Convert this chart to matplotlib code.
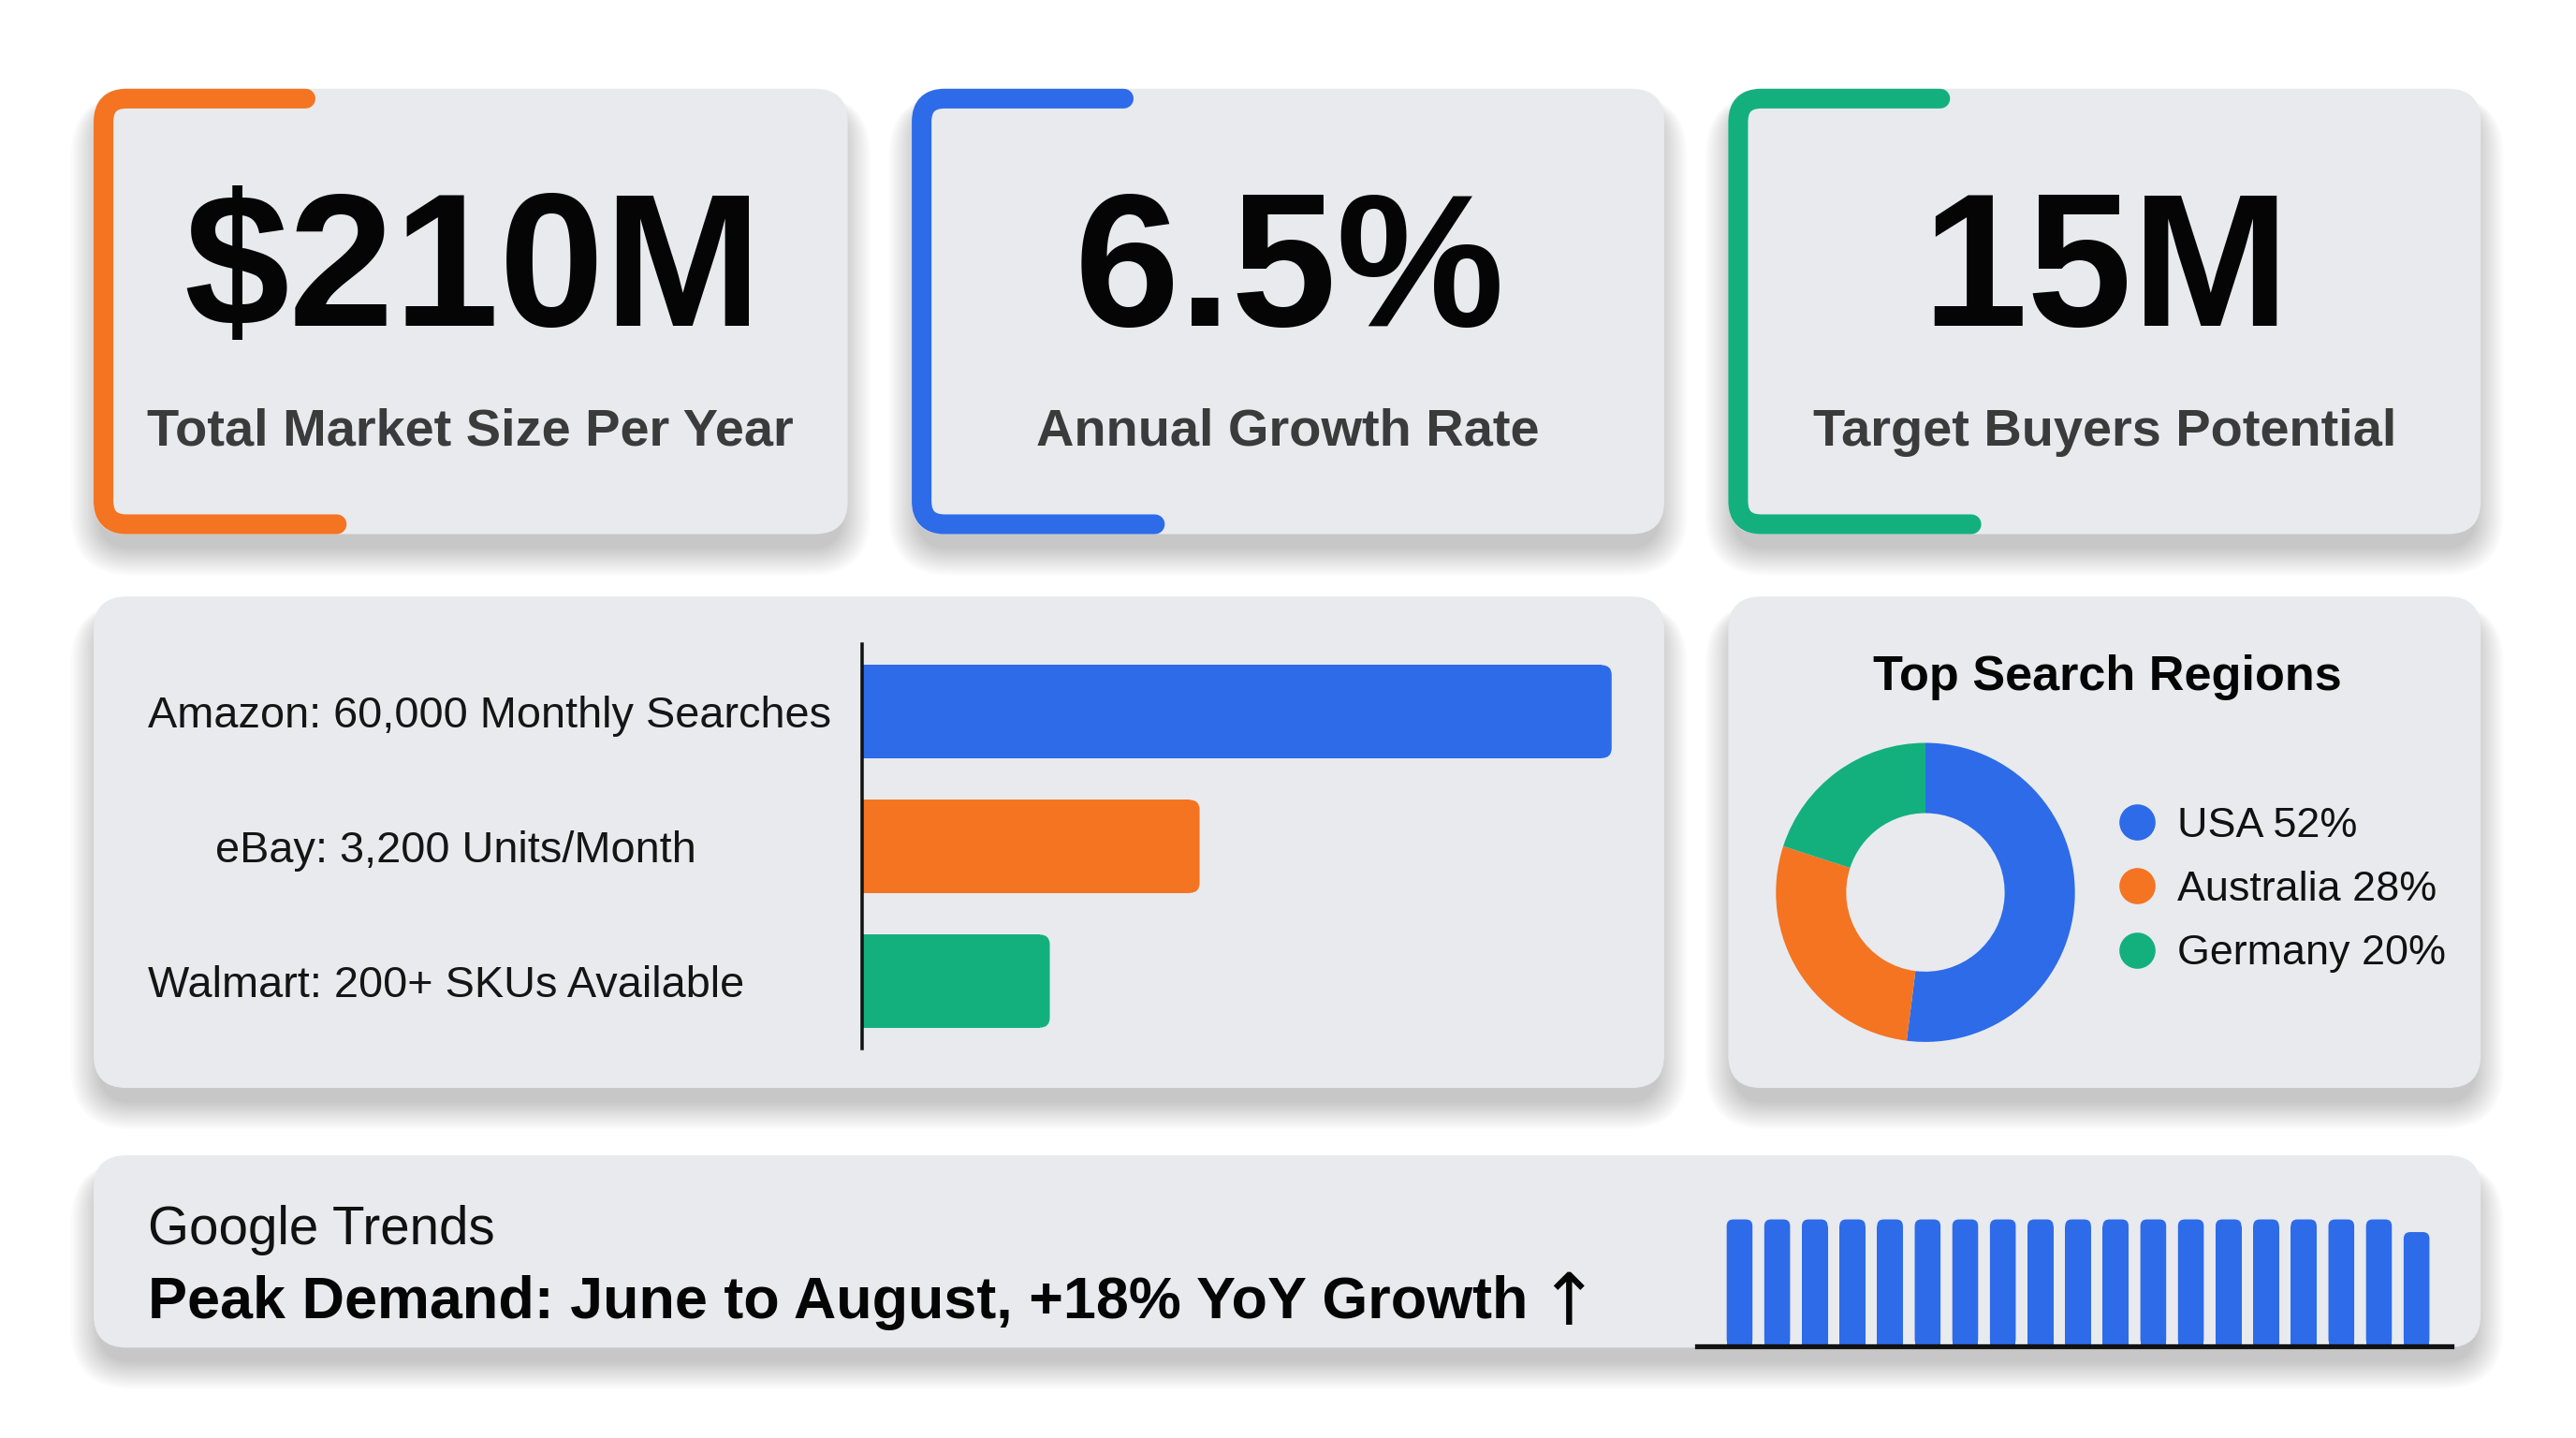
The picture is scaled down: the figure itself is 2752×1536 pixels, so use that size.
import matplotlib
matplotlib.use("Agg")
import matplotlib.pyplot as plt
from matplotlib.patches import FancyBboxPatch, PathPatch
from matplotlib.path import Path
from matplotlib.transforms import blended_transform_factory

plt.rcParams['font.family'] = ['Liberation Sans', 'DejaVu Sans']

##### Data #####
kpi_values = ["$210M", "6.5%", "15M"]
kpi_labels = ["Total Market Size Per Year", "Annual Growth Rate", "Target Buyers Potential"]

platform_labels = ["Amazon: 60,000 Monthly Searches", "eBay: 3,200 Units/Month", "Walmart: 200+ SKUs Available"]
platform_bars = [100, 45, 25]

region_names = ["USA", "Australia", "Germany"]
region_share = [52, 28, 20]

trend_title = "Google Trends"
trend_text = "Peak Demand: June to August, +18% YoY Growth"
trend_arrow = "\u2191"
trend_values = [100, 100, 100, 100, 100, 100, 100, 100, 100, 100,
                100, 100, 100, 100, 100, 100, 100, 100, 90]

##### Style #####
BLUE = "#2d6be9"
ORANGE = "#f47421"
GREEN = "#13b07e"
CARD = "#e8eaee"
kpi_colors = [ORANGE, BLUE, GREEN]
platform_colors = [BLUE, ORANGE, GREEN]

# layout is done in a 1568 x 875 grid, scaled onto the 2752 x 1536 figure
W, H = 1568.0, 875.0
PT = 2752 / W * 0.72   # grid px -> points

def frac(x0, y0, x1, y1):
    return [x0 / W, 1 - y1 / H, (x1 - x0) / W, (y1 - y0) / H]

fig = plt.figure(figsize=(27.52, 15.36), dpi=100)
fig.patch.set_facecolor("white")
bg = fig.add_axes([0, 0, 1, 1])
bg.set_xlim(0, W); bg.set_ylim(H, 0); bg.axis("off")

def card(x0, y0, x1, y1, r=20):
    # soft shadow
    for i in range(14):
        g = 1.3 * i
        bg.add_patch(FancyBboxPatch((x0 - g + 3, y0 + 9 - g * 0.3), x1 - x0 - 6 + 2 * g, y1 - y0 + g * 1.25,
                                    boxstyle="round,pad=0,rounding_size=%g" % (r + g),
                                    fc="black", ec="none", alpha=0.016, zorder=1))
    bg.add_patch(FancyBboxPatch((x0, y0), x1 - x0, y1 - y0, boxstyle="round,pad=0,rounding_size=%g" % r,
                                fc=CARD, ec="none", zorder=2))

def bracket(x0, y0, y1, top_end, bot_end, color, t=12, r=14):
    c = x0 + t / 2
    a = y0 + t / 2
    b = y1 - t / 2
    verts = [(top_end, a), (c + r, a), (c, a), (c, a + r), (c, b - r), (c, b), (c + r, b), (bot_end, b)]
    codes = [Path.MOVETO, Path.LINETO, Path.CURVE3, Path.CURVE3, Path.LINETO, Path.CURVE3, Path.CURVE3, Path.LINETO]
    bg.add_patch(PathPatch(Path(verts, codes), fc="none", ec=color, lw=t * PT,
                           capstyle="round", joinstyle="round", zorder=3))

##### KPI cards #####
kpi_x = [(57, 516), (555, 1013), (1052, 1510)]
for (x0, x1), val, lab, col in zip(kpi_x, kpi_values, kpi_labels, kpi_colors):
    card(x0, 54, x1, 325)
    bracket(x0, 54, 325, x0 + 129, x0 + 148, col)
    cx = (x0 + x1) / 2
    bg.text(cx + 1, 198, val, ha="center", va="baseline", fontsize=115 * PT, fontweight="bold",
            color="#050505", zorder=4)
    bg.text(cx, 271, lab, ha="center", va="baseline", fontsize=31.9 * PT, fontweight="bold",
            color="#3b3b3b", zorder=4)

##### Platform bar chart #####
card(57, 363, 1013, 662)
axb = fig.add_axes(frac(525, 392, 981, 638))
axb.patch.set_alpha(0)
axb.set_xlim(0, 100)
axb.set_ylim(2.5, -0.5)
bh = 0.69
rx = 6 / 4.56
axb.barh(range(len(platform_bars)), [v - rx for v in platform_bars], height=bh,
         color=platform_colors, zorder=2)
for i, (v, c) in enumerate(zip(platform_bars, platform_colors)):
    axb.add_patch(FancyBboxPatch((0, i - bh / 2), v, bh, boxstyle="round,pad=0,rounding_size=%g" % rx,
                                 mutation_aspect=(3 / 246) / (100 / 456), fc=c, ec="none", zorder=2))
for s in ["top", "right", "bottom"]:
    axb.spines[s].set_visible(False)
axb.spines["left"].set_linewidth(2 * PT)
axb.spines["left"].set_color("#111111")
axb.spines["left"].set_zorder(3)
axb.set_xticks([]); axb.set_yticks([])
lab_tr = blended_transform_factory(bg.transData, axb.transData)
label_x = [90, 131, 90]
for i, lab in enumerate(platform_labels):
    axb.text(label_x[i], i + 0.12, lab, transform=lab_tr, ha="left", va="baseline",
             fontsize=26.7 * PT, color="#151515")

##### Regions donut #####
card(1052, 363, 1510, 662)
bg.text(1283, 420, "Top Search Regions", ha="center", va="baseline", fontsize=29.8 * PT,
        fontweight="bold", color="#050505", zorder=4)
axp = fig.add_axes(frac(1081, 452, 1263, 634))
axp.pie(region_share, colors=platform_colors, startangle=90, counterclock=False,
        wedgeprops=dict(width=0.47, edgecolor="none"), radius=1)
axp.set_xlim(-1, 1); axp.set_ylim(-1, 1)
axp.set_aspect("equal")
leg_y = [500, 539, 578]
for y, name, sh, c in zip(leg_y, region_names, region_share, platform_colors):
    bg.scatter([1301], [y], s=(22 * PT) ** 2, color=c, zorder=4, linewidths=0)
    bg.text(1325, y + 9, "%s %d%%" % (name, sh), ha="left", va="baseline", fontsize=25.6 * PT,
            color="#111111", zorder=4)

##### Google trends strip #####
card(57, 703, 1510, 820)
bg.text(90, 757, trend_title, ha="left", va="baseline", fontsize=32.2 * PT, color="#111111", zorder=4)
bg.text(90, 802, trend_text, ha="left", va="baseline", fontsize=35.8 * PT, fontweight="bold",
        color="#050505", zorder=4)
bg.text(936, 806, trend_arrow, ha="left", va="baseline", fontsize=44 * PT, family="DejaVu Sans",
        color="#050505", zorder=4)
axt = fig.add_axes(frac(1033, 734.3, 1492, 819))
axt.patch.set_alpha(0)
axt.set_xlim(-1.13, 18.92)
axt.set_ylim(0, 110)
bw = 0.686
ry = 4 / 77 * 100
axt.bar(range(len(trend_values)), [v - ry for v in trend_values], width=bw, color=BLUE, zorder=2)
for i, v in enumerate(trend_values):
    axt.add_patch(FancyBboxPatch((i - bw / 2, 0), bw, v, boxstyle="round,pad=0,rounding_size=%g" % (4 / 22.9),
                                 mutation_aspect=(110 / 84.7) / (20.05 / 459), fc=BLUE, ec="none", zorder=2))
for s in ["top", "right", "left"]:
    axt.spines[s].set_visible(False)
axt.spines["bottom"].set_linewidth(3 * PT)
axt.spines["bottom"].set_color("#111111")
axt.spines["bottom"].set_zorder(3)
axt.set_xticks([]); axt.set_yticks([])

fig.savefig("out.png", dpi=100, facecolor="white")
